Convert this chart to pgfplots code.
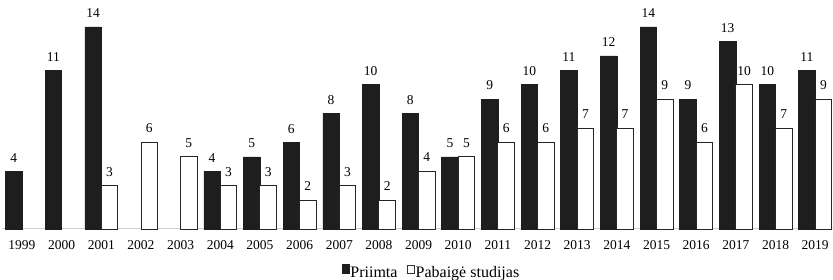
\documentclass[border=0pt]{standalone}
\usepackage{pgfplots}
\pgfplotsset{compat=1.18}
\usepackage{fontspec}
\setmainfont{Liberation Serif}
\definecolor{barblack}{HTML}{1E1E1E}
\definecolor{axisgray}{HTML}{D0D0D0}
\begin{document}
\begin{tikzpicture}
\begin{axis}[
  at={(2pt,51pt)}, anchor=south west,
  scale only axis, width=831pt, height=229pt,
  xmin=-0.504, xmax=20.45, ymin=0, ymax=15.87,
  ybar=0pt, bar width=16.5pt,
  axis x line=bottom, axis y line=none,
  x axis line style={-, draw=axisgray, line width=1pt},
  xtick={0,...,20},
  xticklabels={1999,2000,2001,2002,2003,2004,2005,2006,2007,2008,2009,2010,2011,2012,2013,2014,2015,2016,2017,2018,2019},
  major tick length=0pt,
  xticklabel style={font=\fontsize{13.5}{15}\selectfont, inner sep=0pt, anchor=north, yshift=-11pt},
  /pgf/number format/assume math mode=true,
  nodes near coords,
  every node near coord/.append style={font=\fontsize{13.5}{15}\selectfont, inner sep=0pt, anchor=south, yshift=9pt},
  clip=false,
  legend columns=2,
  legend style={draw=none, fill=none, at={(0.516,-0.2227)}, anchor=south,
    font=\fontsize{16}{18}\selectfont, inner sep=0pt,
    nodes={inner sep=0.5pt},
    /tikz/every even column/.append style={column sep=9pt}},
]
\addplot[fill=barblack, draw=barblack, line width=0.5pt,
  legend image code/.code={\draw[fill=barblack,draw=barblack] (0pt,0pt) rectangle (7.5pt,9pt);}]
  coordinates {(0,4) (1,11) (2,14) (5,4) (6,5) (7,6) (8,8) (9,10) (10,8) (11,5) (12,9) (13,10) (14,11) (15,12) (16,14) (17,9) (18,13) (19,10) (20,11)};
\addlegendentry{Priimta}
\addplot[fill=white, draw=black!85, line width=0.9pt,
  legend image code/.code={\draw[fill=white,draw=black!80,line width=0.7pt] (0pt,0pt) rectangle (7.5pt,8pt);}]
  coordinates {(2,3) (3,6) (4,5) (5,3) (6,3) (7,2) (8,3) (9,2) (10,4) (11,5) (12,6) (13,6) (14,7) (15,7) (16,9) (17,6) (18,10) (19,7) (20,9)};
\addlegendentry{Pabaigė studijas}
\end{axis}
\pgfresetboundingbox
\path[use as bounding box] (0,0) rectangle (833pt,280pt);
\end{tikzpicture}
\end{document}
